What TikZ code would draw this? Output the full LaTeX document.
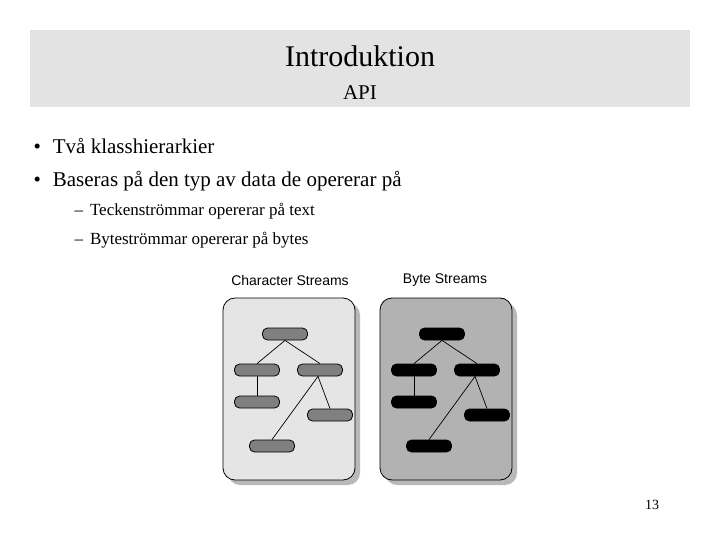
\documentclass[tikz,border=0pt]{standalone}
\usepackage{fontspec}
\setmainfont{Liberation Serif}
\newfontfamily\arialf{Liberation Sans}
\begin{document}
\begin{tikzpicture}[x=1pt,y=-1pt,
  pill/.style={rounded corners=5pt,draw=black,line width=0.8pt,minimum width=45pt,minimum height=12pt,inner sep=0pt},
  link/.style={line width=0.7pt},
  panel/.style={rounded corners=12pt,draw=black,line width=0.8pt},
  shadowp/.style={rounded corners=12pt,fill=gray!55,draw=none}]
\useasboundingbox (0,0) rectangle (720,540);
\fill[gray!22] (30,30) rectangle (690,107);
\node (t1) at (360,56) {\fontsize{30}{34}\selectfont Introduktion};
\node (t2) at (360,93) {\fontsize{21}{24}\selectfont API};
\node[anchor=west] (b1) at (30,146) {\fontsize{21}{24}\selectfont •\hspace{12pt}Två klasshierarkier};
\node[anchor=west] (b2) at (30,181) {\fontsize{21}{24}\selectfont •\hspace{12pt}Baseras på den typ av data de opererar på};
\node[anchor=west] (s1) at (71,211) {\fontsize{17}{20}\selectfont –\hspace{7pt}Teckenströmmar opererar på text};
\node[anchor=west] (s2) at (71,240) {\fontsize{17}{20}\selectfont –\hspace{7pt}Byteströmmar opererar på bytes};
\node (l1) at (290,280) {\arialf\fontsize{14}{16}\selectfont Character Streams};
\node (l2) at (445,280) {\arialf\fontsize{14}{16}\selectfont Byte Streams};
\node (pg) at (652,505) {\fontsize{14}{16}\selectfont 13};
\foreach \dx/\pc/\nc/\nm in {0/gray!20/gray!100/a,157/gray!60/black/b}{
  \fill[shadowp] (228+\dx,303) rectangle (360+\dx,485);
  \draw[panel,fill=\pc] (223+\dx,298) rectangle (355+\dx,480);
  \node[pill,fill=\nc] (\nm r) at (285+\dx,334) {};
  \node[pill,fill=\nc] (\nm l) at (257+\dx,370) {};
  \node[pill,fill=\nc] (\nm m) at (320+\dx,370) {};
  \node[pill,fill=\nc] (\nm ll) at (257+\dx,402) {};
  \node[pill,fill=\nc] (\nm c1) at (330+\dx,415) {};
  \node[pill,fill=\nc] (\nm c2) at (272+\dx,446) {};
  \draw[link] (\nm r.south) -- (\nm l.north);
  \draw[link] (\nm r.south) -- (\nm m.north);
  \draw[link] (\nm l.south) -- (\nm ll.north);
  \draw[link] ([xshift=-2pt]\nm m.south) -- (\nm c1.north);
  \draw[link] ([xshift=-2pt]\nm m.south) -- (\nm c2.north);
}
\end{tikzpicture}
\end{document}
